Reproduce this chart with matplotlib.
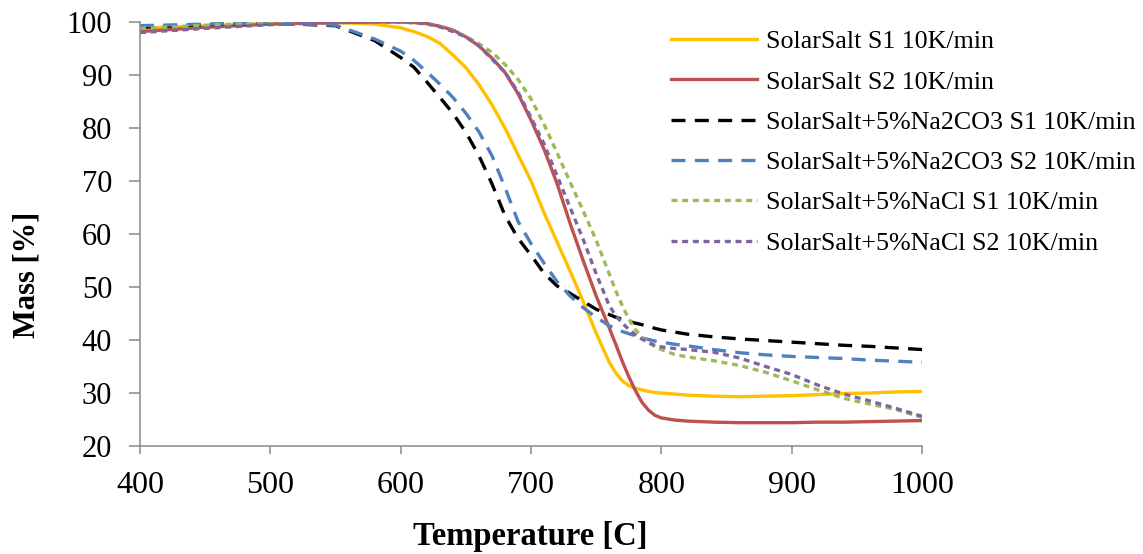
import matplotlib
matplotlib.use("Agg")
import matplotlib.pyplot as plt

# temperature grid [C] shared by all six TGA curves
temp = [400, 450, 500, 550, 580, 600, 610, 620, 630, 640, 650, 660, 670, 680, 690,
        700, 710, 720, 730, 740, 750, 760, 765, 770, 775, 780, 785, 790, 795, 800, 810,
        820, 840, 860, 880, 900, 920, 940, 960, 980, 1000]

# mass [%]
ss_s1 = [98.8, 99.3, 99.7, 99.9, 99.6, 98.9, 98.2, 97.3, 96.0, 93.8, 91.4, 88.2, 84.4, 80.0, 75.0,
         70.0, 64.0, 58.5, 53.0, 47.3, 41.3, 35.8, 33.8, 32.3, 31.4, 30.9, 30.6, 30.3, 30.1, 30.0, 29.8,
         29.6, 29.4, 29.3, 29.4, 29.5, 29.7, 29.9, 30.0, 30.2, 30.3]
ss_s2 = [98.2, 99.0, 99.6, 99.9, 100.0, 100.0, 99.9, 99.7, 99.2, 98.5, 97.2, 95.5, 93.2, 90.5, 86.5,
         81.5, 76.0, 69.5, 62.0, 55.0, 48.3, 42.3, 39.2, 36.0, 33.1, 30.5, 28.3, 26.8, 25.8, 25.3, 24.9,
         24.7, 24.5, 24.4, 24.4, 24.4, 24.5, 24.5, 24.6, 24.7, 24.8]
na2co3_s1 = [99.0, 99.5, 99.8, 99.3, 96.5, 93.3, 91.5, 88.7, 85.8, 82.8, 79.2, 74.8, 69.5, 63.5, 59.2,
             56.0, 52.6, 50.2, 48.8, 47.3, 45.8, 44.8, 44.3, 43.9, 43.5, 43.2, 42.9, 42.6, 42.2, 41.9, 41.5,
             41.1, 40.6, 40.2, 39.9, 39.6, 39.3, 39.0, 38.8, 38.5, 38.2]
na2co3_s2 = [99.3, 99.6, 99.8, 99.4, 96.8, 94.5, 92.8, 90.6, 88.3, 85.8, 82.8, 79.3, 74.8, 68.8, 62.4,
             58.2, 54.5, 51.0, 48.3, 46.1, 44.3, 42.7, 42.1, 41.6, 41.2, 40.8, 40.4, 40.1, 39.8, 39.6, 39.2,
             38.9, 38.2, 37.6, 37.2, 36.9, 36.7, 36.5, 36.2, 36.0, 35.8]
nacl_s1 = [98.8, 99.4, 99.8, 100.0, 100.0, 100.0, 99.8, 99.6, 99.1, 98.3, 97.3, 95.9, 94.3, 92.0, 89.2,
           85.5, 80.7, 75.3, 69.8, 64.4, 58.8, 52.5, 49.3, 46.5, 44.0, 42.0, 40.6, 39.5, 38.8, 38.2, 37.3,
           36.8, 36.1, 35.2, 33.9, 32.3, 30.6, 29.0, 27.9, 26.9, 25.4]
nacl_s2 = [98.0, 98.8, 99.5, 99.9, 100.0, 100.0, 99.9, 99.7, 99.1, 98.2, 97.2, 95.5, 93.0, 90.5, 86.8,
           82.0, 77.0, 71.0, 65.0, 59.0, 52.5, 46.5, 44.6, 43.2, 42.0, 41.0, 40.2, 39.5, 39.0, 38.7, 38.4,
           38.2, 37.7, 36.6, 35.0, 33.5, 31.5, 29.8, 28.5, 27.1, 25.6]

labels = ["SolarSalt S1 10K/min", "SolarSalt S2 10K/min",
          "SolarSalt+5%Na2CO3 S1 10K/min", "SolarSalt+5%Na2CO3 S2 10K/min",
          "SolarSalt+5%NaCl S1 10K/min", "SolarSalt+5%NaCl S2 10K/min"]

plt.rcParams['font.family'] = ['Liberation Serif', 'DejaVu Serif']

fig = plt.figure(figsize=(11.43, 5.54), dpi=100)
ax = fig.add_axes([140/1143, 1 - 446/554, (922-140)/1143, (446-22)/554])

lw = 2.4
ax.plot(temp, ss_s1, color='#FFC000', lw=lw, label=labels[0])
ax.plot(temp, ss_s2, color='#C0504D', lw=lw, label=labels[1])
ax.plot(temp, na2co3_s1, color='#000000', lw=lw, ls=(0, (4.2, 2.8)), label=labels[2])
ax.plot(temp, na2co3_s2, color='#4F81BD', lw=lw, ls=(0, (4.2, 2.8)), label=labels[3])
ax.plot(temp, nacl_s1, color='#9BBB59', lw=lw, ls=(0, (1.8, 1.4)), label=labels[4])
ax.plot(temp, nacl_s2, color='#8064A2', lw=lw, ls=(0, (1.8, 1.4)), label=labels[5])

ax.set_xlim(400, 1000)
ax.set_ylim(20, 100)
ax.set_xticks(range(400, 1001, 100))
ax.set_yticks(range(20, 101, 10))

for s in ['top', 'right']:
    ax.spines[s].set_visible(False)
for s in ['left', 'bottom']:
    ax.spines[s].set_color('#898989')
    ax.spines[s].set_linewidth(1.1)
ax.tick_params(axis='y', direction='out', length=8, width=1.1, color='#898989', pad=12, labelsize=22)
ax.tick_params(axis='x', direction='out', length=6, width=1.1, color='#898989', pad=12, labelsize=23)

ax.set_xlabel("Temperature [C]", fontsize=23.5, fontweight='bold')
ax.set_ylabel("Mass [%]", fontsize=22, fontweight='bold')
ax.xaxis.set_label_coords((530 - 140) / 782, -(537 - 446) / 424)
ax.yaxis.set_label_coords((27 - 140) / 782, (446 - 275) / 424)
ax.xaxis.label.set_va('center')
ax.yaxis.label.set_va('center')

fig.legend(loc='upper left', bbox_to_anchor=(671/1143, 1 - 30/554), frameon=False,
           fontsize=18.7, handlelength=3.3, handletextpad=0.35, labelspacing=0.66,
           borderpad=0, borderaxespad=0)

fig.savefig("out.png", dpi=100)
